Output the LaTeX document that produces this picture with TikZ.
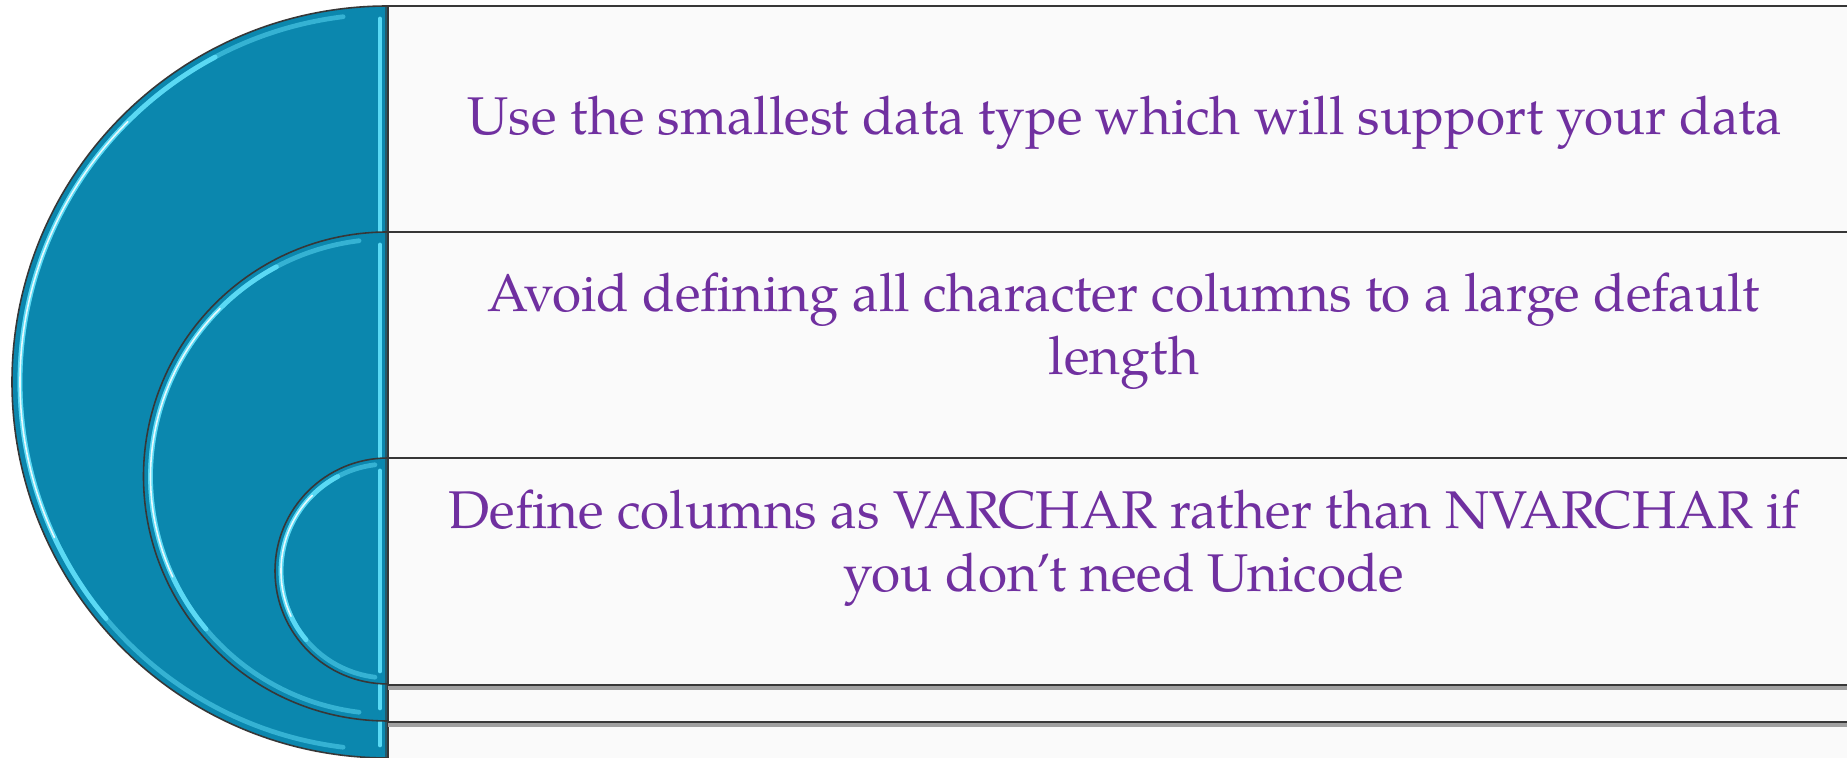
\documentclass[tikz,border=0pt]{standalone}
\usepackage{fontspec}
\setmainfont{TeX Gyre Pagella}

\definecolor{itemtext}{RGB}{112,48,160}
\definecolor{discfill}{RGB}{11,135,174}
\definecolor{rimlight}{RGB}{95,222,248}
\definecolor{panelfill}{RGB}{250,250,250}
\definecolor{edgegray}{RGB}{55,55,55}
\definecolor{shadowgray}{RGB}{160,160,160}

\tikzset{
  panel/.style={fill=panelfill, draw=edgegray, line width=0.5pt},
  panelshadow/.style={fill=shadowgray},
  disc/.style={fill=discfill, draw=edgegray, line width=0.45pt},
  rim/.style={draw=rimlight, line width=1.35pt, line cap=round},
  rimcore/.style={draw=white, line width=0.45pt, line cap=round},
  itemlabel/.style={text=itemtext, font=\fontsize{15.1}{17.9}\selectfont,
    inner sep=0pt, anchor=base},
}

% half disc with a bevelled rim: #1 centre height, #2 radius, #3 rim inset
\newcommand{\bevelhalfdisc}[3]{%
  \path[disc] (388,{#1+#2}) arc[start angle=90, end angle=270, radius=#2] -- cycle;
  \draw[rim, opacity=0.5]
    ({388+(#2-#3)*cos(97)},{#1+(#2-#3)*sin(97)})
    arc[start angle=97, end angle=263, radius={#2-#3}];
  \draw[rim, opacity=0.9]
    ({388+(#2-#3)*cos(118)},{#1+(#2-#3)*sin(118)})
    arc[start angle=118, end angle=220, radius={#2-#3}];
  \draw[rimcore, opacity=0.85]
    ({388+(#2-#3)*cos(135)},{#1+(#2-#3)*sin(135)})
    arc[start angle=135, end angle=205, radius={#2-#3}];
  \draw[rim, opacity=0.95] (380,{#1+#2-13}) -- (380,{#1-#2+13});
  \draw[edgegray, opacity=0.55, line width=0.9pt] (386.5,{#1+#2}) -- (386.5,{#1-#2});
}

\begin{document}
\begin{tikzpicture}[x=0.01cm, y=0.01cm]
  \useasboundingbox (0,0) rectangle (1847,758);
  \fill[white] (0,0) rectangle (1847,758);

  % first panel and the outer half disc
  \path[panel] (388,752) rectangle (1853,-6);
  \bevelhalfdisc{376}{376}{8}

  % second panel and the middle half disc
  \fill[panelshadow] (388,31) rectangle (1853,36);
  \path[panel] (388,526) rectangle (1853,36);
  \bevelhalfdisc{281.5}{244.5}{7}

  % third panel and the inner half disc
  \fill[panelshadow] (388,68) rectangle (1853,73);
  \path[panel] (388,300) rectangle (1853,73);
  \bevelhalfdisc{187}{113}{6}

  % item texts
  \node[itemlabel] (smallest) at (1125,623)
    {Use the smallest data type which will support your data};
  \node[itemlabel] (defaults) at (1124,446)
    {\begin{tabular}[t]{@{}c@{}}Avoid defining all character columns to a large default\\length\end{tabular}};
  \node[itemlabel] (unicode) at (1124,229)
    {\begin{tabular}[t]{@{}c@{}}Define columns as VARCHAR rather than NVARCHAR if\\you don’t need Unicode\end{tabular}};
\end{tikzpicture}
\end{document}
